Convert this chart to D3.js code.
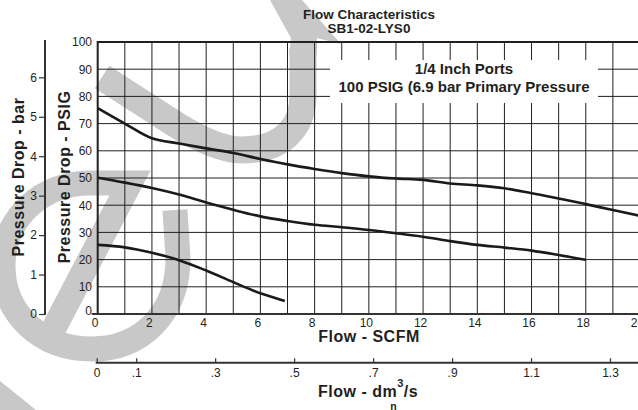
<!DOCTYPE html>
<html>
<head>
<meta charset="utf-8">
<script src="https://cdn.jsdelivr.net/npm/d3@7"></script>
<style>
  body { margin: 0; background: #fff; }
  text { font-family: "Liberation Sans", Arial, Helvetica, sans-serif; fill: #231f20; }
</style>
</head>
<body>
<script>
// values (psi pressure drop vs SCFM flow)
const flowHigh = [0, 1, 2, 3, 4, 5, 6, 7, 8, 9, 10, 11, 12, 13, 14, 15, 16, 17, 18, 19, 20];
const psiHigh = [75.7, 70.0, 64.6, 62.7, 60.9, 59.2, 57.0, 55.0, 53.3, 51.8, 50.6, 49.8, 49.3, 48.0, 47.3, 46.2, 44.4, 42.5, 40.4, 38.2, 36.1];
const flowMid = [0, 1, 2, 3, 4, 5, 6, 7, 8, 9, 10, 11, 12, 13, 14, 15, 16, 17, 18];
const psiMid = [50.1, 48.3, 46.3, 43.9, 41.0, 38.3, 35.9, 34.2, 32.8, 31.9, 30.9, 29.7, 28.4, 26.8, 25.4, 24.4, 23.3, 21.7, 19.9];
const flowLow = [0, 1, 2, 3, 4, 5, 6, 6.9];
const psiLow = [25.4, 24.5, 22.5, 19.8, 16.0, 11.7, 7.6, 4.8];

const scfmTicks = [0, 2, 4, 6, 8, 10, 12, 14, 16, 18, 20];
const psiTicks = [0, 10, 20, 30, 40, 50, 60, 70, 80, 90, 100];
const barTicks = [0, 1, 2, 3, 4, 5, 6];
const dmTicks = [0, 0.1, 0.3, 0.5, 0.7, 0.9, 1.1, 1.3];
const dmLabels = ["0", ".1", ".3", ".5", ".7", ".9", "1.1", "1.3"];

const titleLines = ["Flow Characteristics", "SB1-02-LYS0"];
const noteLines = ["1/4 Inch Ports", "100 PSIG (6.9 bar Primary Pressure"];

const W = 638, H = 410;
const ink = "#231f20";

const svg = d3.select("body").append("svg")
  .attr("width", W)
  .attr("height", H);

const x = d3.scaleLinear().domain([0, 20]).range([97.7, 640]);
const y = d3.scaleLinear().domain([0, 100]).range([314, 42]);
const yBar = d3.scaleLinear().domain([0, 100 / 14.5038]).range([314, 42]);
const xDm = d3.scaleLinear().domain([0, 1.3]).range([96.7, 610]);

// grey watermark behind everything
const grey = "#c8c8c8";
const wm = svg.append("g").attr("fill", "none").attr("stroke", grey);
wm.append("path")
  .attr("d", "M102,77 L175,124 C205,143 225,150 242,150 C285,150 303,125 303,95 L303,48")
  .attr("stroke-width", 27);
wm.append("path")
  .attr("d", "M270,0 L302,0 L341,44 L317,38 L317,55 L289,55 L291,38 Z")
  .attr("fill", grey).attr("stroke", "none");
wm.append("path")
  .attr("d", "M175,210 L178,258 C178,315 140,349 92,349 C40,349 3,313 3,266 C3,218 42,183 90,183 L130,183 L54,328")
  .attr("stroke-width", 25)
  .attr("stroke-linejoin", "miter");
wm.append("path")
  .attr("d", "M0,381 L36,410 L0,410 Z")
  .attr("fill", grey).attr("stroke", "none");

// grid
const grid = svg.append("g").attr("stroke", ink).attr("stroke-width", 1);
grid.selectAll("line.v")
  .data(d3.range(1, 21))
  .enter()
  .append("line")
  .attr("x1", d => x(d)).attr("x2", d => x(d))
  .attr("y1", y(100)).attr("y2", y(0));
grid.selectAll("line.h")
  .data(psiTicks.slice(1, -1))
  .enter()
  .append("line")
  .attr("x1", x(0)).attr("x2", W)
  .attr("y1", d => y(d)).attr("y2", d => y(d));

// frame
svg.append("line").attr("x1", x(0)).attr("x2", W).attr("y1", y(100)).attr("y2", y(100))
  .attr("stroke", ink).attr("stroke-width", 2);
svg.append("line").attr("x1", x(0)).attr("x2", x(0)).attr("y1", y(100) - 1).attr("y2", y(0))
  .attr("stroke", ink).attr("stroke-width", 2);
svg.append("line").attr("x1", x(0) - 6).attr("x2", W).attr("y1", y(0)).attr("y2", y(0))
  .attr("stroke", "#333").attr("stroke-width", 2);

// white note box over the grid
svg.append("rect")
  .attr("x", 330).attr("y", 60)
  .attr("width", 268).attr("height", 43)
  .attr("fill", "#fff");
svg.selectAll("text.note")
  .data(noteLines)
  .enter()
  .append("text")
  .attr("x", 464)
  .attr("y", (d, i) => 74 + i * 18.3)
  .attr("text-anchor", "middle")
  .attr("font-weight", "bold")
  .attr("font-size", "15px")
  .text(d => d);

// curves
const line = d3.line()
  .x(d => x(d[0]))
  .y(d => y(d[1]))
  .curve(d3.curveMonotoneX);

[[flowHigh, psiHigh], [flowMid, psiMid], [flowLow, psiLow]].forEach(([fx, py]) => {
  svg.append("path")
    .datum(fx.map((f, i) => [f, py[i]]))
    .attr("d", line)
    .attr("fill", "none")
    .attr("stroke", "#1a1a1a")
    .attr("stroke-width", 2.6)
    .attr("stroke-linejoin", "round");
});

// psi labels
svg.selectAll("text.psi")
  .data(psiTicks)
  .enter()
  .append("text")
  .attr("x", 92)
  .attr("y", d => y(d) + (d === 0 ? -3 : 0))
  .attr("dy", "0.36em")
  .attr("text-anchor", "end")
  .attr("font-size", "12px")
  .text(d => d);

// scfm labels
svg.selectAll("text.scfm")
  .data(scfmTicks)
  .enter()
  .append("text")
  .attr("x", d => x(d) - 2.5)
  .attr("y", 327)
  .attr("text-anchor", "middle")
  .attr("font-size", "12px")
  .text(d => d);

// bar axis
const barAxis = svg.append("g")
  .attr("transform", "translate(45,0)")
  .call(d3.axisLeft(yBar).tickValues(barTicks).tickFormat(d3.format("d"))
    .tickSize(6).tickSizeOuter(0).tickPadding(2));
barAxis.select(".domain").remove();
barAxis.append("line").attr("x1", 0).attr("x2", 0).attr("y1", 40).attr("y2", yBar(0) + 1)
  .attr("stroke", "#333").attr("stroke-width", 2);
barAxis.selectAll("line").attr("stroke", "#333");
barAxis.selectAll(".tick line").attr("stroke-width", 1.2);
barAxis.selectAll("text").attr("font-size", "12px").attr("font-family", null).attr("fill", ink);

// dm3/s axis
const dmAxis = svg.append("g")
  .attr("transform", "translate(0,362.7)")
  .call(d3.axisBottom(xDm).tickValues(dmTicks).tickFormat((d, i) => dmLabels[i])
    .tickSize(-4.5).tickSizeOuter(0).tickPadding(6));
dmAxis.select(".domain").remove();
dmAxis.append("line").attr("x1", xDm(0) - 1).attr("x2", W).attr("y1", 0).attr("y2", 0)
  .attr("stroke", "#333").attr("stroke-width", 2);
dmAxis.selectAll(".tick line").attr("stroke", "#333").attr("stroke-width", 1.2);
dmAxis.selectAll("text").attr("font-size", "12px").attr("font-family", null).attr("fill", ink);

// titles
svg.selectAll("text.title")
  .data(titleLines)
  .enter()
  .append("text")
  .attr("x", 369)
  .attr("y", (d, i) => 19.3 + i * 13.6)
  .attr("text-anchor", "middle")
  .attr("font-weight", "bold")
  .attr("font-size", "13.5px")
  .text(d => d);

function boldLabel(txt, tx, ty, rot) {
  return svg.append("text")
    .attr("transform", `translate(${tx},${ty}) rotate(${rot})`)
    .attr("text-anchor", "middle")
    .attr("font-weight", "bold")
    .attr("font-size", "16px")
    .attr("letter-spacing", "0.5px")
    .text(txt);
}
boldLabel("Pressure Drop - bar", 24, 177, -90);
boldLabel("Pressure Drop - PSIG", 70, 177, -90);
boldLabel("Flow - SCFM", 369, 341.7, 0);

const dmTitle = svg.append("text")
  .attr("x", 318).attr("y", 397.3)
  .attr("font-weight", "bold")
  .attr("font-size", "16px")
  .attr("letter-spacing", "0.5px");
const dmFirst = dmTitle.append("tspan").text("Flow - dm");
dmTitle.append("tspan").attr("font-size", "11px").attr("dy", -10.5).text("3");
dmTitle.append("tspan").attr("dy", 10.5).text("/s");
const mEnd = 318 + dmFirst.node().getComputedTextLength();
svg.append("text")
  .attr("x", mEnd - 7).attr("y", 409.5)
  .attr("font-weight", "bold")
  .attr("font-size", "10.5px")
  .text("n");
</script>
</body>
</html>
